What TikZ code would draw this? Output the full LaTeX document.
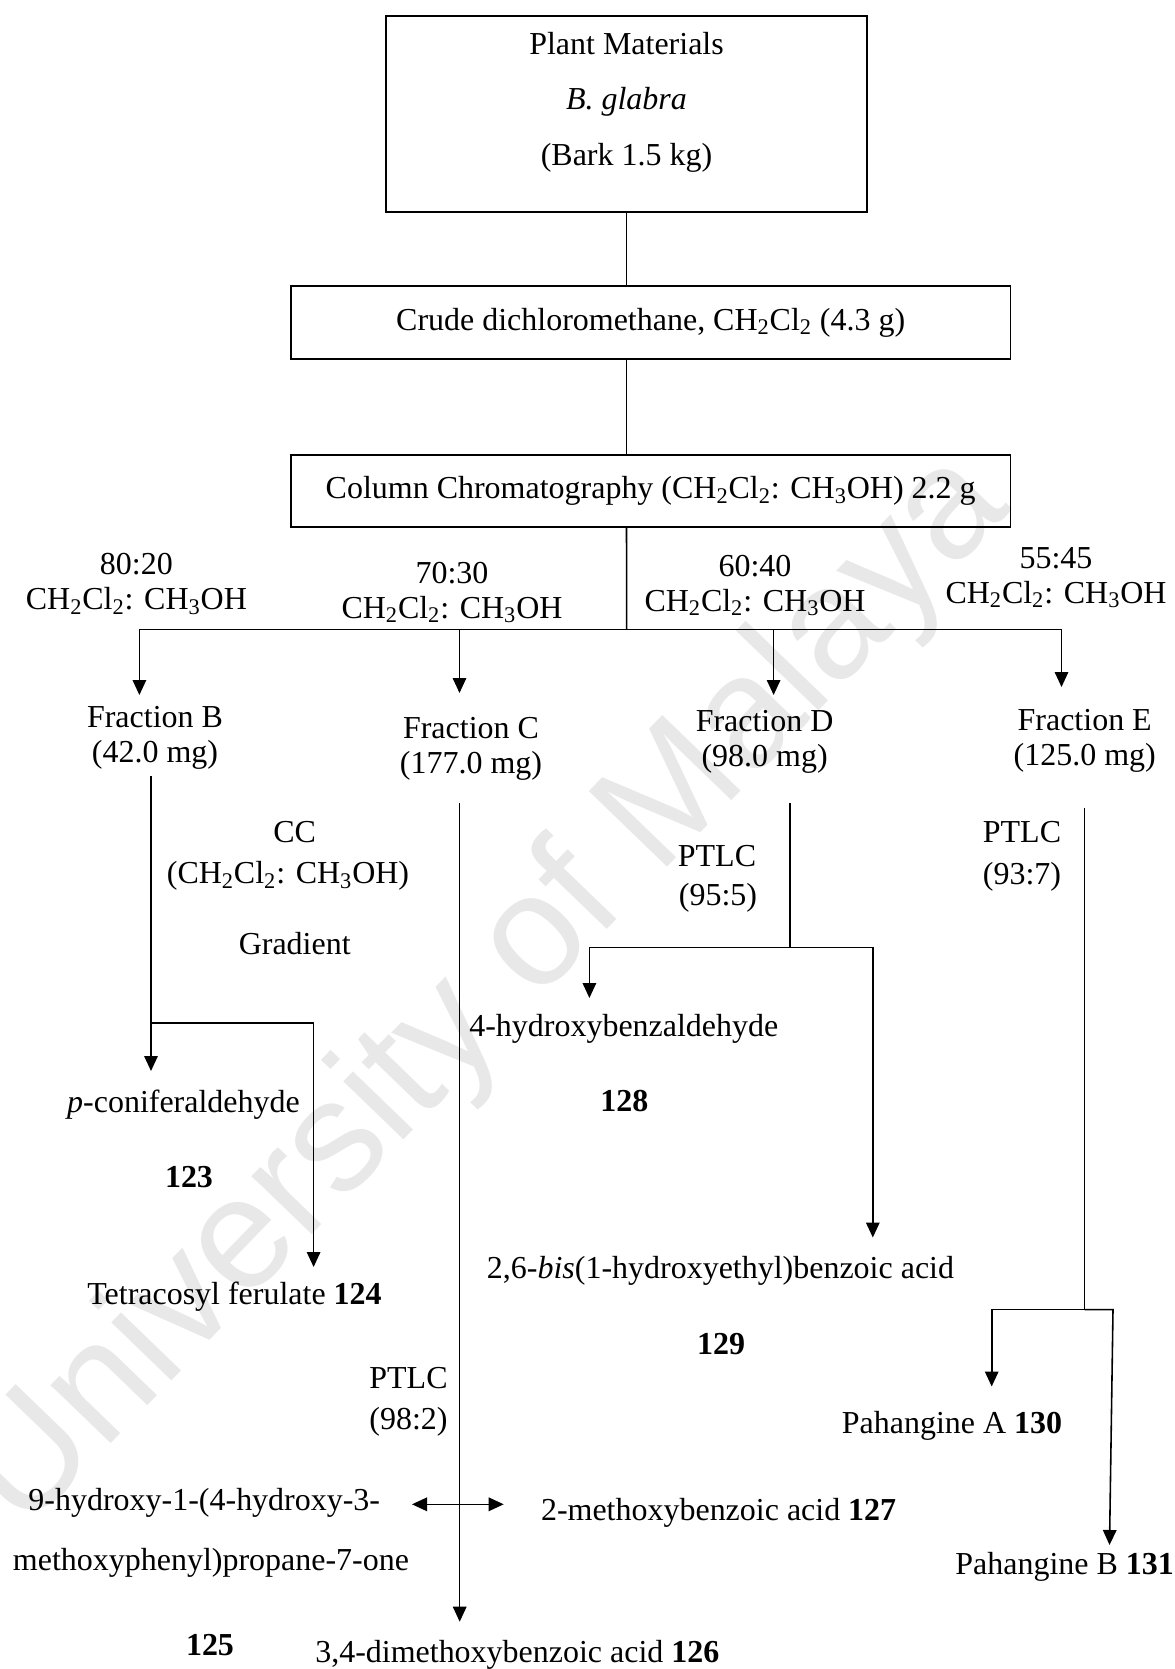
\documentclass[tikz,border=0pt]{standalone}
\usepackage{fontspec}
\setmainfont{Liberation Serif}
\newfontfamily\wmfont{Liberation Sans}
\usetikzlibrary{arrows.meta}
\newcommand{\csub}[1]{\textsubscript{#1}}
\begin{document}
\begin{tikzpicture}[x=0.02cm,y=-0.02cm,
  every node/.style={inner sep=0pt, outer sep=0pt},
  txt/.style={font=\fontsize{18.2}{19.9}\selectfont, align=center},
  box/.style={draw, line width=0.9pt},
  link/.style={line width=0.9pt},
  arr/.style={line width=0.9pt, -{Triangle[length=0.3cm,width=0.27cm]}},
  darr/.style={line width=0.9pt, {Triangle[length=0.3cm,width=0.27cm]}-{Triangle[length=0.3cm,width=0.27cm]}}
]
\useasboundingbox (0,0) rectangle (1175,1669);
\fill[white] (0,0) rectangle (1175,1669);

% watermark
\node[rotate=46, text=black!9, font=\wmfont\fontsize{90}{90}\selectfont] (wm) at (489,993) {University of Malaya};

% main boxes
\node[box, minimum width=9.62cm, minimum height=3.92cm] (plant) at (626.5,114) {};
\node[txt, font=\fontsize{18.2}{31.6}\selectfont] (plantt) at (626.5,102) {Plant Materials\\\textit{B. glabra}\\(Bark 1.5 kg)};
\node[box, txt, minimum width=14.39cm, minimum height=1.46cm] (crude) at (650.7,322.5) {Crude dichloromethane, CH\csub{2}Cl\csub{2} (4.3 g)};
\node[box, txt, minimum width=14.39cm, minimum height=1.44cm] (column) at (650.7,491) {Column Chromatography (CH\csub{2}Cl\csub{2}: CH\csub{3}OH) 2.2 g};

\draw[link] (plant.south) -- (plant.south |- crude.north);
\draw[link] (plant.south |- crude.south) -- (plant.south |- column.north);
\coordinate (hub) at (626.7,629.3);
\coordinate (hL) at (139.4,629.3);
\coordinate (hR) at (1061.5,629.3);
\draw[link] (plant.south |- column.south) -- (hub);
\draw[link] (hL) -- (hR);

% eluent ratios
\node[txt] (r80) at (136.4,584.2) {80:20\\CH\csub{2}Cl\csub{2}: CH\csub{3}OH};
\node[txt] (r70) at (452,592.5) {70:30\\CH\csub{2}Cl\csub{2}: CH\csub{3}OH};
\node[txt] (r60) at (755,585.5) {60:40\\CH\csub{2}Cl\csub{2}: CH\csub{3}OH};
\node[txt] (r55) at (1056,577.5) {55:45\\CH\csub{2}Cl\csub{2}: CH\csub{3}OH};

% fractions
\coordinate (tB) at (139.4,695);
\coordinate (tC) at (459.5,693);
\coordinate (tD) at (773.6,695);
\coordinate (tE) at (1061.5,687);
\draw[arr] (hL) -- (tB);
\draw[arr] (hub -| tC) -- (tC);
\draw[arr] (hub -| tD) -- (tD);
\draw[arr] (hR) -- (tE);
\node[txt] (fB) at (155,737.5) {Fraction B\\(42.0 mg)};
\node[txt] (fC) at (471,749.2) {Fraction C\\(177.0 mg)};
\node[txt] (fD) at (764.6,741.7) {Fraction D\\(98.0 mg)};
\node[txt] (fE) at (1084.7,740.5) {Fraction E\\(125.0 mg)};

% fraction B
\coordinate (bTop) at (151,776);
\coordinate (bFork) at (151,1022.8);
\coordinate (bTip) at (151,1071);
\coordinate (bTurn) at (313.6,1022.8);
\coordinate (bTip2) at (313.6,1267);
\draw[arr] (bTop) -- (bTip);
\draw[arr] (bFork) -- (bTurn) -- (bTip2);
\node[txt] (cc) at (294.7,832.5) {CC};
\node[txt] (ccs) at (288,876) {(CH\csub{2}Cl\csub{2}: CH\csub{3}OH)};
\node[txt] (grad) at (294.7,944) {Gradient};
\node[txt] (c123) at (183.5,1105) {\textit{p}-coniferaldehyde};
\node[txt] (n123) at (189,1177) {\textbf{123}};
\node[txt] (c124) at (234.5,1297) {Tetracosyl ferulate \textbf{124}};

% fraction C
\coordinate (cTop) at (459.7,803.2);
\coordinate (cTip) at (459.7,1621.7);
\draw[arr] (cTop) -- (cTip);
\node[txt] (ptC) at (408.5,1378.5) {PTLC};
\node[txt] (ptCr) at (408.5,1421.5) {(98:2)};
\coordinate (mL) at (412,1504.3);
\coordinate (mR) at (503.7,1504.3);
\draw[darr] (mL) -- (mR);
\node[txt] (c125a) at (204.3,1503.3) {9-hydroxy-1-(4-hydroxy-3-};
\node[txt] (c125b) at (211,1563.3) {methoxyphenyl)propane-7-one};
\node[txt] (n125) at (210,1645) {\textbf{125}};
\node[txt] (c127) at (718.6,1513.3) {2-methoxybenzoic acid \textbf{127}};
\node[txt] (c126) at (517.3,1655) {3,4-dimethoxybenzoic acid \textbf{126}};

% fraction D
\coordinate (dTop) at (790,803.2);
\coordinate (dFork) at (790,947.5);
\coordinate (dL) at (589.4,947.5);
\coordinate (dLtip) at (589.4,998);
\coordinate (dR) at (872.8,947.5);
\coordinate (dRtip) at (872.8,1237.5);
\draw[link] (dTop) -- (dFork);
\draw[arr] (dFork) -- (dL) -- (dLtip);
\draw[arr] (dFork) -- (dR) -- (dRtip);
\node[txt] (ptD) at (717,856) {PTLC};
\node[txt] (ptDr) at (718,898) {(95:5)};
\node[txt] (c128) at (623.8,1029) {4-hydroxybenzaldehyde};
\node[txt] (n128) at (624.4,1101.5) {\textbf{128}};
\node[txt] (c129) at (720.5,1270.6) {2,6-\textit{bis}(1-hydroxyethyl)benzoic acid};
\node[txt] (n129) at (721,1344.5) {\textbf{129}};

% fraction E
\coordinate (eTop) at (1084.5,807.5);
\coordinate (eMid) at (1084.5,898);
\coordinate (eFork) at (1084.5,1309.6);
\coordinate (eL) at (991.7,1309.6);
\coordinate (eLtip) at (991.7,1386.5);
\coordinate (eR) at (1113,1309.6);
\coordinate (eRtip) at (1109.5,1545);
\draw[line width=0.5pt] (eTop) -- (eMid);
\draw[link] (eMid) -- (eFork);
\draw[arr] (eFork) -- (eL) -- (eLtip);
\draw[arr] (eFork) -- (eR) -- (eRtip);
\node[txt] (ptE) at (1022,831.6) {PTLC};
\node[txt] (ptEr) at (1022,876.4) {(93:7)};
\node[txt] (c130) at (952,1425.5) {Pahangine A \textbf{130}};
\node[txt] (c131) at (1064.6,1566.7) {Pahangine B \textbf{131}};
\end{tikzpicture}
\end{document}
